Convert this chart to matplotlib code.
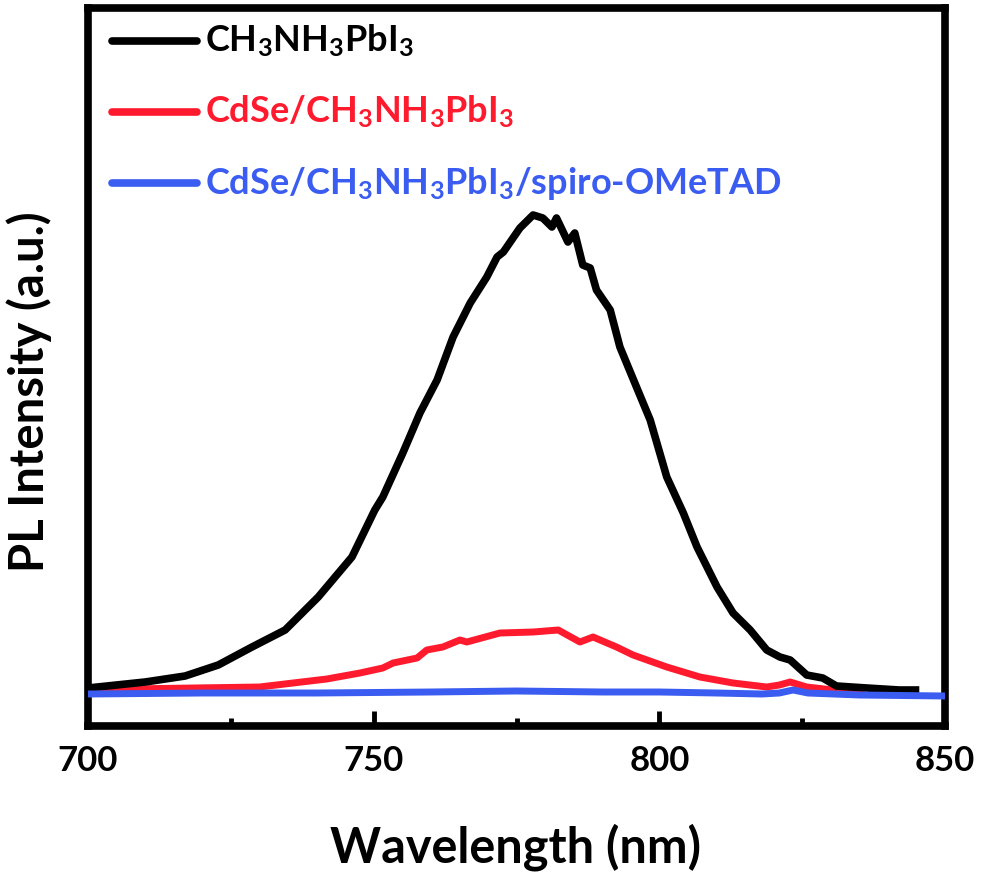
import matplotlib
matplotlib.use("Agg")
import matplotlib.pyplot as plt
from matplotlib.lines import Line2D
from matplotlib.ticker import MultipleLocator

plt.rcParams['font.family'] = ['Lato', 'DejaVu Sans']
plt.rcParams['font.weight'] = 'bold'
plt.rcParams['mathtext.fontset'] = 'custom'
plt.rcParams['mathtext.rm'] = 'Lato:bold'
plt.rcParams['mathtext.it'] = 'Lato:bold'
plt.rcParams['mathtext.bf'] = 'Lato:bold'

# ---- data (arbitrary units) ----
wl_black = [700, 710, 717, 722.8, 728.7, 734.5, 740.3, 746.2, 750.2, 751.6, 755.1, 758.1,
            761.1, 763.9, 766.9, 769.8, 771.6, 772.7, 775.6, 777.9, 779.6, 781.2, 782.0,
            784.0, 785.2, 786.6, 787.9, 789.0, 791.4, 793.1, 796.0, 798.4, 801.3, 804.2,
            806.6, 810.1, 812.9, 815.9, 818.8, 821.1, 822.9, 825.8, 828.6, 831.0, 836.3,
            842.0, 845.5]
pl_black = [38, 44, 50, 61, 79, 96, 129, 169, 216, 229, 273, 313,
            346, 389, 423, 449, 469, 474, 498, 511, 508, 499, 508,
            484, 493, 461, 458, 436, 416, 379, 339, 306, 249, 213,
            179, 139, 113, 96, 76, 69, 66, 51, 48, 40, 38,
            36, 36]

wl_red = [700, 706.8, 718.4, 730, 735.9, 741.8, 747.6, 751.6, 753.4, 757.6, 759.3, 762.1,
          765.1, 766.3, 772.1, 777.9, 782.3, 786.1, 788.4, 792.5, 795.4, 801.3, 807.1,
          812.9, 818.8, 821.0, 822.9, 825.8, 830.4, 836.0]
pl_red = [37, 37, 38, 39, 43, 47, 53, 58, 63, 68, 76, 79,
          86, 84, 93, 94, 96, 84, 89, 79, 71, 59, 49,
          43, 39, 41, 44, 39, 36, 35]

wl_blue = [700, 720, 740, 760, 775, 790, 800, 810, 818, 821, 823.4, 826, 835, 850]
pl_blue = [32, 33, 33, 34, 35, 34, 34, 33, 32, 33, 36, 33, 31, 30]

labels = [r'CH$_3$NH$_3$PbI$_3$',
          r'CdSe/CH$_3$NH$_3$PbI$_3$',
          r'CdSe/CH$_3$NH$_3$PbI$_3$/spiro-OMeTAD']
colors = ['#000000', '#ff1a2e', '#3a5cf0']
x_ticks = [700, 750, 800, 850]

# ---- figure ----
fig = plt.figure(figsize=(9.81, 8.81), dpi=100)
ax = fig.add_axes([88/981, 1-726/881, (945-88)/981, (726-8)/881])

ax.plot(wl_black, pl_black, color=colors[0], lw=5.5, solid_capstyle='butt', zorder=3)
ax.plot(wl_red, pl_red, color=colors[1], lw=5.0, solid_capstyle='butt', zorder=2)
ax.plot(wl_blue, pl_blue, color=colors[2], lw=5.0, solid_capstyle='butt', zorder=4)

ax.set_xlim(700, 850)
ax.set_ylim(0, 718)
ax.set_xticks(x_ticks)
ax.xaxis.set_minor_locator(MultipleLocator(25))
ax.tick_params(axis='x', which='major', direction='in', length=11, width=3.5,
               labelsize=25, pad=14)
ax.tick_params(axis='x', which='minor', direction='in', length=5.5, width=3.5)
ax.set_yticks([])
for lab in ax.get_xticklabels():
    lab.set_fontweight('bold')
for sp in ax.spines.values():
    sp.set_linewidth(5.5)

fig.text(516/981, 1-847/881, 'Wavelength (nm)', fontsize=35, fontweight='bold',
         ha='center', va='center')
fig.text(29/981, 1-392/881, 'PL Intensity (a.u.)', fontsize=34, fontweight='bold',
         ha='center', va='center', rotation=90)

# legend (manual)
rows_y = [41, 112, 183]
for lab, col, yy in zip(labels, colors, rows_y):
    yf = 1 - yy/881
    fig.add_artist(Line2D([112/981, 197/981], [yf, yf], color=col, lw=5.5,
                          solid_capstyle='round', transform=fig.transFigure))
    fig.text(205/981, yf, lab, color=col, fontsize=26, fontweight='bold',
             ha='left', va='center')

fig.savefig('out.png', dpi=100)
